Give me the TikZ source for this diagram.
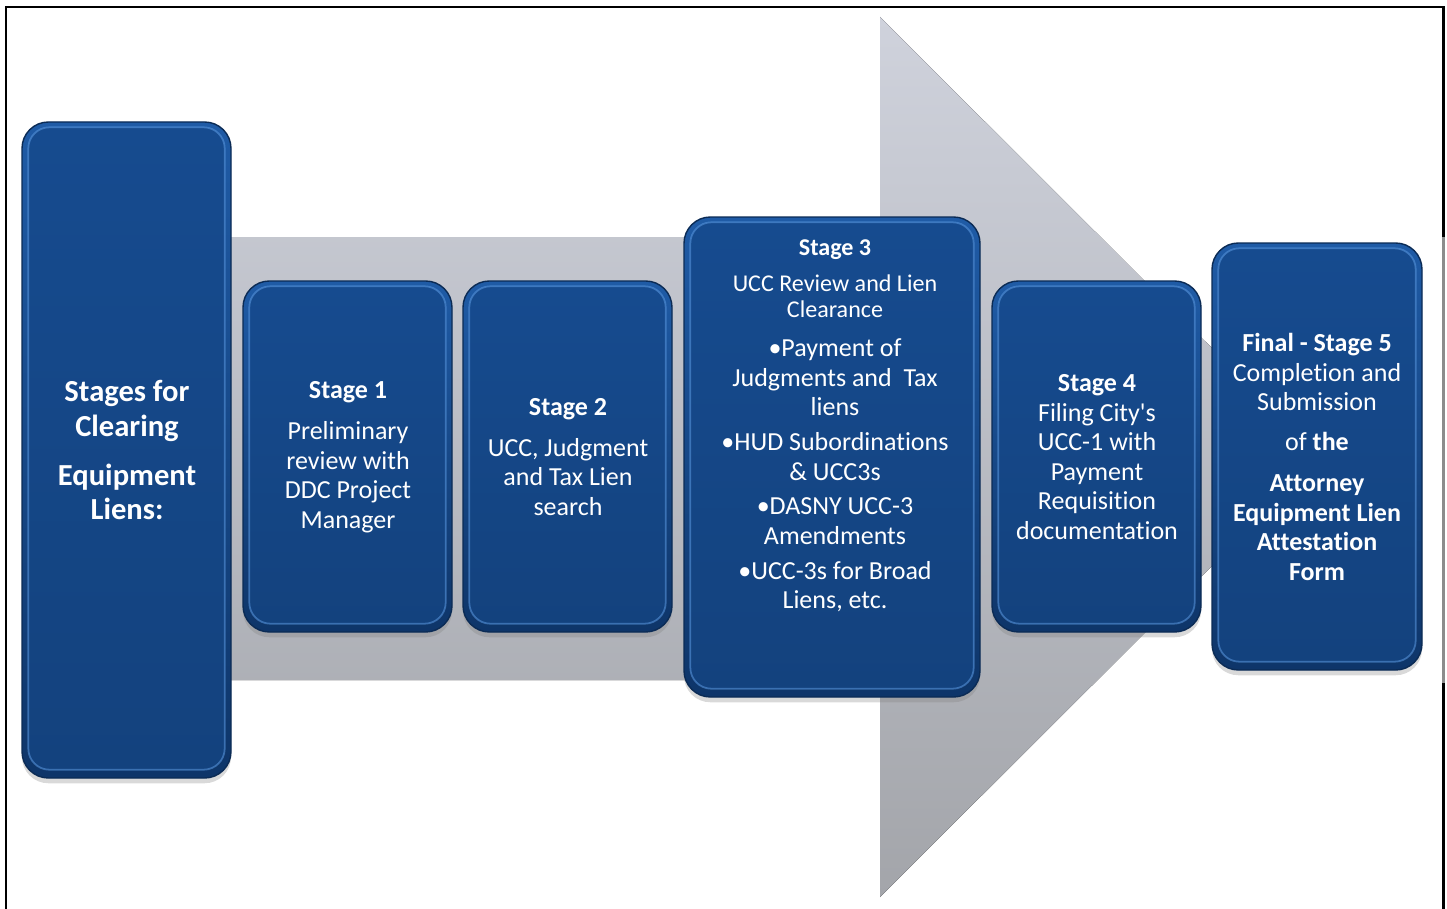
\documentclass[tikz,border=0pt]{standalone}
\usepackage{fontspec}
\setmainfont{Carlito}[Ligatures=NoCommon]
\usetikzlibrary{shadows}

\definecolor{stageblue}{HTML}{164B8F}
\definecolor{stagetop}{HTML}{1F5BA6}
\definecolor{stagedark}{HTML}{0E3569}
\definecolor{stageline}{HTML}{0B2B55}
\definecolor{stageglow}{HTML}{5C9AE2}
\definecolor{arrowtop}{HTML}{CFD2DC}
\definecolor{arrowbottom}{HTML}{A3A5AA}

\newcommand{\headsize}{\fontsize{13.7}{14.8}\selectfont}

\tikzset{
  stagebox/.style={rectangle, rounded corners=15pt, draw=stageline, line width=0.8pt,
    top color=stagetop, bottom color=stagedark, inner sep=0pt,
    drop shadow={shadow xshift=0pt, shadow yshift=-3pt, opacity=0.3}},
  stagerim/.style={rounded corners=12pt, draw=stageglow, draw opacity=0.55, line width=1pt,
    top color=stageblue, bottom color=stageblue!88!black},
  stagetext/.style={text=white, align=center, inner sep=0pt,
    font=\fontsize{14.8}{16.8}\selectfont},
  frame/.style={line width=1.7pt}
}

\begin{document}
\begin{tikzpicture}[x=0.02cm, y=-0.02cm]
    \def\px{0.02cm}
    \useasboundingbox (0,0) rectangle (1447,909);

    % page frame
    \draw[frame] (6,909) -- (6,7) -- (1443,7) -- (1443,909);
    \draw[frame, color=gray!90] (1443,237) -- (1443,683);

    % big grey arrow behind the stages
    \fill[top color=arrowtop, bottom color=arrowbottom]
        (230,237) -- (880,237) -- (880,17) -- (1321,457)
        -- (880,897) -- (880,680) -- (230,680) -- cycle;

    % stage boxes
    \foreach \n/\x/\y/\w/\h in {b0/126.5/450/209/656, b1/347.5/456.5/209/351,
        b2/567.5/456.5/209/351, b3/832/457/296/480,
        b4/1096.5/456.5/209/351, b5/1317/456.5/210/427}
        \node[stagebox, minimum width=\w*\px, minimum height=\h*\px] (\n) at (\x,\y) {};

    % inner panel of each box
    \foreach \n in {b0,b1,b2,b3,b4,b5}
        \draw[stagerim] ([shift={(7,6)}]\n.north west) rectangle ([shift={(-7,-9)}]\n.south east);

    % box texts
    \node[stagetext, font=\bfseries\fontsize{17.4}{19.9}\selectfont] (t0) at (127,450)
        {Stages for\\Clearing\\[8pt]Equipment\\Liens:};

    \node[stagetext] (t1) at (348,457)
        {\textbf{Stage 1}\\[6.5pt]Preliminary\\review with\\DDC Project\\Manager};

    \node[stagetext] (t2) at (568,457)
        {\textbf{Stage 2}\\[6.5pt]UCC, Judgment\\and Tax Lien\\search};

    \node[stagetext] (t3) at (835,426)
        {{\headsize\bfseries Stage 3}\\[3.7pt]{\headsize UCC Review and Lien}\\[-2pt]
         {\headsize Clearance}\\[5.4pt]
         \textbullet Payment of\\Judgments and~ Tax\\liens\\[3pt]
         \textbullet HUD Subordinations\\\&{} UCC3s\\[3pt]
         \textbullet DASNY UCC-3\\Amendments\\[3pt]
         \textbullet UCC-3s for Broad\\Liens, etc.};

    \node[stagetext] (t4) at (1097,457)
        {\textbf{Stage 4}\\Filing City\textquotesingle s\\UCC-1 with\\Payment\\Requisition\\documentation};

    \node[stagetext] (t5) at (1317,457)
        {\textbf{Final - Stage 5}\\Completion and\\Submission\\[6pt]of \textbf{the}\\[6.5pt]
         \textbf{Attorney}\\\textbf{Equipment Lien}\\\textbf{Attestation}\\\textbf{Form}};
\end{tikzpicture}
\end{document}
